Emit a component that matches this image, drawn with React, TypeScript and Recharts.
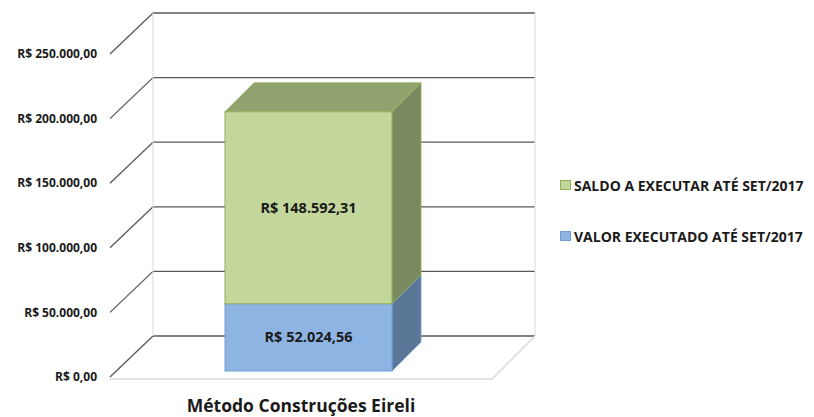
import { Bar, BarChart, CartesianGrid, Legend, ReferenceArea, XAxis, YAxis } from 'recharts';

const categories = ['Método Construções Eireli'];
const valorExecutado = [52024.56];
const saldoExecutar = [148592.31];
const yTicks = [0, 50000, 100000, 150000, 200000, 250000];

const seriesInfo = [
  {
    key: 'executado',
    label: 'VALOR EXECUTADO ATÉ SET/2017',
    front: '#8eb4e3',
    side: '#5a7797',
    top: '#7296c2',
    stroke: '#729fd6',
  },
  {
    key: 'saldo',
    label: 'SALDO A EXECUTAR ATÉ SET/2017',
    front: '#c3d69b',
    side: '#7b8960',
    top: '#92a26f',
    stroke: '#8eb056',
  },
];

const data = categories.map((name, i) => ({
  name,
  executado: valorExecutado[i],
  saldo: saldoExecutar[i],
}));

const FONT = '"Open Sans", sans-serif';
// depth of the whole "room" (front axis plane -> back wall)
const WALL_DX = 43;
const WALL_DY = -41;
// the box sits a bit behind the front plane and has its own depth
const BAR_SHIFT_X = 7;
const BAR_SHIFT_Y = -6;
const BOX_DX = 29;
const BOX_DY = -29;

function formatBRL(v: number) {
  const [int, dec] = v.toFixed(2).split('.');
  return 'R$ ' + int.replace(/\B(?=(\d{3})+(?!\d))/g, '.') + ',' + dec;
}

function GridLine(props: any) {
  const { x1, x2, y1, index } = props;
  const by = y1 + WALL_DY;
  return (
    <g key={`grid-${index}`}>
      <line x1={x1} y1={y1} x2={x1 + WALL_DX} y2={by} stroke="#595959" strokeWidth={1.3} />
      <line x1={x1 + WALL_DX} y1={by} x2={x2 + WALL_DX} y2={by} stroke="#595959" strokeWidth={1.3} />
    </g>
  );
}

function Walls(props: any) {
  const { x, y, width, height } = props;
  const bottom = y + height;
  const right = x + width;
  const wall = '#d9d9d9';
  return (
    <g>
      <line x1={x + WALL_DX} y1={y + WALL_DY} x2={x + WALL_DX} y2={bottom + WALL_DY} stroke={wall} />
      <line x1={right + WALL_DX} y1={y + WALL_DY} x2={right + WALL_DX} y2={bottom + WALL_DY} stroke={wall} />
      <polyline
        points={`${x},${bottom + 2} ${right},${bottom + 2} ${right + WALL_DX},${bottom + WALL_DY}`}
        fill="none"
        stroke={wall}
        strokeWidth={1.3}
      />
    </g>
  );
}

function makeBox(s: (typeof seriesInfo)[number], withTop: boolean) {
  return (props: any) => {
    const { x, y, width, height, payload } = props;
    const fx = x + BAR_SHIFT_X;
    const fy = y + BAR_SHIFT_Y;
    const rx = fx + width;
    return (
      <g>
        <polygon
          points={`${rx},${fy} ${rx + BOX_DX},${fy + BOX_DY} ${rx + BOX_DX},${fy + height + BOX_DY} ${rx},${fy + height}`}
          fill={s.side}
          stroke={s.stroke}
          strokeWidth={0.8}
        />
        {withTop ? (
          <polygon
            points={`${fx},${fy} ${fx + BOX_DX},${fy + BOX_DY} ${rx + BOX_DX},${fy + BOX_DY} ${rx},${fy}`}
            fill={s.top}
            stroke={s.stroke}
            strokeWidth={0.8}
          />
        ) : null}
        <rect x={fx} y={fy} width={width} height={height} fill={s.front} stroke={s.stroke} strokeWidth={1} />
        <text
          x={fx + width / 2}
          y={fy + height / 2}
          dy="0.35em"
          textAnchor="middle"
          fontFamily={FONT}
          fontWeight={700}
          fontSize={14.5}
          fill="#1a1a1a"
        >
          {formatBRL(payload[s.key])}
        </text>
      </g>
    );
  };
}

function CategoryTick(props: any) {
  const { x, y, payload } = props;
  return (
    <text x={x} y={y + 27} textAnchor="middle" fontFamily={FONT} fontWeight={700} fontSize={17.5} fill="#1a1a1a">
      {payload.value}
    </text>
  );
}

function LegendBox() {
  const items = [...seriesInfo].reverse();
  return (
    <div style={{ fontFamily: FONT }}>
      {items.map((s) => (
        <div key={s.key} style={{ display: 'flex', alignItems: 'center', height: 20, marginBottom: 31 }}>
          <span
            style={{
              display: 'inline-block',
              width: 9,
              height: 8,
              background: s.front,
              border: `1px solid ${s.stroke}`,
              marginRight: 3,
            }}
          />
          <span style={{ fontSize: 14, fontWeight: 700, color: '#1a1a1a', whiteSpace: 'nowrap' }}>{s.label}</span>
        </div>
      ))}
    </div>
  );
}

export default function App() {
  return (
    <div style={{ position: 'absolute', left: 0, top: 0, background: '#fff' }}>
      <BarChart width={814} height={417} data={data} margin={{ top: 54, right: 322, left: 0, bottom: 0 }}>
        <CartesianGrid vertical={false} horizontal={GridLine} />
        <ReferenceArea y1={0} y2={250000} shape={Walls} ifOverflow="visible" />
        <XAxis dataKey="name" axisLine={false} tickLine={false} height={40} tick={CategoryTick} />
        <YAxis
          domain={[0, 250000]}
          ticks={yTicks}
          width={110}
          axisLine={false}
          tickLine={false}
          tickSize={0}
          tickMargin={13}
          tickFormatter={formatBRL}
          tick={{ fontFamily: FONT, fontWeight: 700, fontSize: 12, fill: '#1a1a1a' }}
        />
        <Legend
          layout="vertical"
          align="center"
          verticalAlign="middle"
          wrapperStyle={{ left: 560, top: 175, width: 254 }}
          content={LegendBox}
        />
        {seriesInfo.map((s, i) => (
          <Bar
            key={s.key}
            dataKey={s.key}
            name={s.label}
            stackId="total"
            barSize={167}
            fill={s.front}
            isAnimationActive={false}
            shape={makeBox(s, i === seriesInfo.length - 1)}
          />
        ))}
      </BarChart>
    </div>
  );
}
